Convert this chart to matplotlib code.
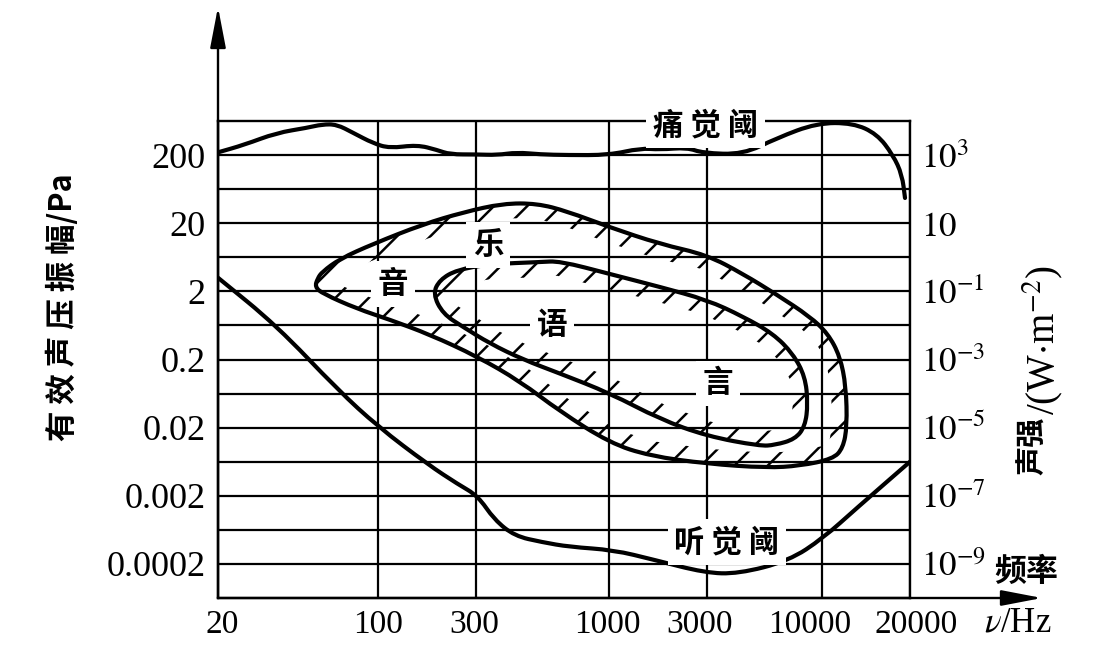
import numpy as np
import matplotlib.pyplot as plt
from matplotlib.path import Path
from matplotlib.patches import PathPatch
from matplotlib.transforms import ScaledTranslation
from matplotlib.ticker import FixedLocator, NullLocator, NullFormatter

plt.rcParams['font.family'] = ['Liberation Serif', 'DejaVu Serif']
plt.rcParams['mathtext.fontset'] = 'stix'
plt.rcParams['hatch.linewidth'] = 1.8

CJK = ['Noto Sans CJK SC', 'DejaVu Sans']

# x axis: frequency (Hz)
x_ticks = [20, 100, 300, 1000, 3000, 10000, 20000]
x_tick_labels = ['20', '100', '300', '1000', '3000', '10000', '20000']

# y axis: effective sound pressure (Pa) and matching intensity exponents
p_ticks = [0.0002, 0.002, 0.02, 0.2, 2, 20, 200]
p_tick_labels = ['0.0002', '0.002', '0.02', '0.2', '2', '20', '200']
intensity_exp = [-9, -7, -5, -3, -1, 1, 3]

# curves, frequency in Hz and level in dB (re 2e-5 Pa)
pain_freq = [20, 26, 36, 49, 57, 66, 78, 95, 114, 155, 194, 224, 300, 363, 435,
             536, 684, 1000, 1420, 1770, 2400, 2860, 4380, 6240, 9480, 12760,
             15420, 17500, 18790, 19230]
pain_level = [140.8, 143, 146.5, 148, 149, 149, 146.5, 143.5, 142, 143, 141.5,
              140.2, 140.2, 140, 140.8, 140.2, 140, 140, 142, 141.6, 142.2,
              140.6, 140.2, 145, 149.4, 149.4, 146.2, 140, 134.2, 127.4]

hearing_freq = [20, 36, 67, 100, 175, 245, 305, 354, 426, 545, 700, 1050, 1660,
                2930, 4160, 7060, 10100, 13150, 20000]
hearing_level = [104, 90, 71, 60.3, 49.2, 43.4, 40, 33, 28.2, 26.4, 25, 24.1,
                 21.2, 17.4, 17.1, 20.9, 27.6, 36.4, 50]

music_freq = [53, 54.5, 57, 68, 95, 166, 260, 383, 521, 684, 1010, 1770, 3000,
              4380, 6240, 8810, 10480, 11530, 12080, 12180, 11800, 10900, 7940,
              5620, 3000, 1580, 1010, 641, 447, 303, 179, 114, 81, 57.5]
music_level = [101.3, 103.8, 105.7, 109.5, 113.9, 119.7, 123.2, 125.8, 125.8,
               123.5, 118.8, 113.9, 110.7, 105.1, 99.0, 92.6, 87.6, 80.9, 72.1,
               60.4, 54.0, 50.8, 48.8, 48.2, 49.4, 51.7, 55.5, 64.8, 73.6, 80.9,
               87.3, 91.7, 94.9, 99.3]

speech_freq = [185, 200, 242, 340, 536, 641, 1010, 1770, 3000, 4380, 5990, 7380,
               8380, 8630, 8380, 7540, 6110, 5220, 3000, 1770, 1010, 641, 459,
               340, 259, 207]
speech_level = [99.3, 103.4, 106.3, 108.0, 108.6, 108.9, 105.1, 101.3, 97.5,
                92.6, 87.6, 81.7, 75.0, 67.1, 60.4, 56.6, 54.9, 54.6, 57.5, 62.5,
                70.1, 75.9, 80.0, 84.7, 89.6, 93.4]


def spl_to_pa(level):
    return 2e-5 * 10 ** (np.asarray(level, dtype=float) / 20)


# the printed frequency axis is only roughly logarithmic
stop_log = np.log10(x_ticks)
stop_pos = np.array([0, 0.2312, 0.3728, 0.5650, 0.7066, 0.8728, 1.0])
s_lo = (stop_pos[1] - stop_pos[0]) / (stop_log[1] - stop_log[0])
s_hi = (stop_pos[-1] - stop_pos[-2]) / (stop_log[-1] - stop_log[-2])


def fwd(f):
    lf = np.log10(np.maximum(np.asarray(f, dtype=float), 1e-12))
    out = np.interp(lf, stop_log, stop_pos)
    out = np.where(lf < stop_log[0], (lf - stop_log[0]) * s_lo, out)
    out = np.where(lf > stop_log[-1], 1 + (lf - stop_log[-1]) * s_hi, out)
    return out


def inv(u):
    u = np.asarray(u, dtype=float)
    lf = np.interp(u, stop_pos, stop_log)
    lf = np.where(u < 0, stop_log[0] + u / s_lo, lf)
    lf = np.where(u > 1, stop_log[-1] + (u - 1) / s_hi, lf)
    return 10 ** lf


def smooth_path(freq, pres, closed=False):
    # quadratic bezier through the read points, built in the axes' own scale space
    P = np.column_stack([fwd(freq), np.log10(pres)])
    if closed:
        M = (P + np.roll(P, -1, axis=0)) / 2
        verts, codes = [M[-1]], [Path.MOVETO]
        for i in range(len(P)):
            verts += [P[i], M[i]]
            codes += [Path.CURVE3, Path.CURVE3]
        verts.append(M[-1])
        codes.append(Path.CLOSEPOLY)
    else:
        M = (P[:-1] + P[1:]) / 2
        verts, codes = [P[0], M[0]], [Path.MOVETO, Path.LINETO]
        for i in range(1, len(P) - 1):
            verts += [P[i], M[i]]
            codes += [Path.CURVE3, Path.CURVE3]
        verts.append(P[-1])
        codes.append(Path.LINETO)
    verts = np.array(verts)
    return Path(np.column_stack([inv(verts[:, 0]), 10 ** verts[:, 1]]), codes)


W, H = 1094, 646
fig = plt.figure(figsize=(W / 100, H / 100), dpi=100)
ax = fig.add_axes([218 / W, 1 - 598 / H, 692 / W, 477 / H])

ax.set_xscale('function', functions=(fwd, inv))
ax.set_yscale('log')
ax.set_xlim(20, 20000)
ax.set_ylim(spl_to_pa(10), spl_to_pa(150))

ax.set_xticks(x_ticks, x_tick_labels)
ax.xaxis.set_minor_locator(NullLocator())
ax.set_yticks(p_ticks, p_tick_labels)
ax.yaxis.set_minor_locator(FixedLocator(np.array(p_ticks[:-1]) * 10 ** 0.5))
ax.yaxis.set_minor_formatter(NullFormatter())
ax.tick_params(which='both', length=0)
ax.tick_params(axis='y', pad=9, labelsize=26)
ax.tick_params(axis='x', pad=8, labelsize=24)

# nudge crowded frequency labels the way the printed figure does
for lab, dx in zip(ax.get_xticklabels(), [4, 0, -2, -2, -7, -12, 6]):
    lab.set_transform(lab.get_transform() + ScaledTranslation(dx / 100, 0, fig.dpi_scale_trans))

ax.grid(True, which='major', axis='x', color='k', lw=1.6)
ax.grid(True, which='both', axis='y', color='k', lw=1.6)
ax.set_axisbelow(True)
for sp in ax.spines.values():
    sp.set_linewidth(1.7)

sec = ax.secondary_yaxis('right')
sec.set_yticks(p_ticks, ['$10$' if e == 1 else f'$10^{{{e}}}$' for e in intensity_exp])
sec.yaxis.set_minor_locator(NullLocator())
sec.tick_params(which='both', length=0, labelsize=25, pad=8)
for sp in sec.spines.values():
    sp.set_visible(False)


def inner_ring(freq, pres, width):
    pts = ax.transData.transform(np.column_stack([freq, pres]))
    x, y = pts[:, 0], pts[:, 1]
    area = 0.5 * np.sum(x * np.roll(y, -1) - np.roll(x, -1) * y)
    tang = np.roll(pts, -1, axis=0) - np.roll(pts, 1, axis=0)
    tang /= np.hypot(tang[:, 0], tang[:, 1])[:, None]
    normal = np.column_stack([-tang[:, 1], tang[:, 0]])
    if area < 0:
        normal = -normal
    inner = ax.transData.inverted().transform(pts + normal * width)
    return inner[:, 0], inner[:, 1]


# hatched bands just inside the music and speech regions
for i, (freq, level) in enumerate([(music_freq, music_level), (speech_freq, speech_level)]):
    pres = spl_to_pa(level)
    path = smooth_path(freq, pres, closed=True)
    ax.add_patch(PathPatch(path, facecolor='none', edgecolor='k', hatch='/', lw=0,
                           zorder=0.2 + 0.1 * i))
    fi, pi = inner_ring(freq, pres, 15)
    ax.fill(fi, pi, facecolor='white', edgecolor='none', zorder=0.25 + 0.1 * i)
    ax.add_patch(PathPatch(path, fill=False, edgecolor='k', lw=3.0, zorder=3,
                           joinstyle='round'))

for freq, level in [(pain_freq, pain_level), (hearing_freq, hearing_level)]:
    ax.add_patch(PathPatch(smooth_path(freq, spl_to_pa(level)), fill=False,
                           edgecolor='k', lw=3.0, zorder=3, capstyle='round'))

box = dict(boxstyle='square,pad=0.22', fc='white', ec='none')
labels = [('痛 觉 阈', 2950, 148.8), ('听 觉 阈', 3700, 26.4), ('乐', 334, 113.6),
          ('音', 118, 102.2), ('语', 597, 90.2), ('言', 3366, 73.0)]
for s, f, lv in labels:
    ax.text(f, spl_to_pa(lv), s, ha='center', va='center', fontsize=22, family=CJK,
            weight='bold', bbox=box, zorder=6, clip_on=False)

# axis arrows
arrow = dict(arrowstyle='-|>,head_length=1.25,head_width=0.24', color='k', lw=1.7,
             shrinkA=0, shrinkB=0, mutation_scale=20)
ax.annotate('', xy=(0, (598 - 7) / 477), xytext=(0, 0), xycoords='axes fraction',
            textcoords='axes fraction', arrowprops=arrow, annotation_clip=False)
ax.annotate('', xy=((1042 - 218) / 692, 0), xytext=(0, 0), xycoords='axes fraction',
            textcoords='axes fraction', arrowprops=arrow, annotation_clip=False)

fig.text(63 / W, 1 - 307 / H, '有 效 声 压 振 幅/Pa', rotation=90, ha='center', va='center',
         fontsize=22, family=CJK, weight='bold')
fig.text(1032 / W, 1 - 417 / H, '声强', rotation=90, ha='center', va='top',
         fontsize=21, family=CJK, weight='bold')
fig.text(1043 / W, 1 - 415 / H, r'/(W$\cdot$m$^{-2}$)', rotation=90, ha='center', va='bottom',
         fontsize=28)
fig.text(1026 / W, 1 - 572 / H, '频率', ha='center', va='center', fontsize=23,
         family=CJK, weight='bold')
fig.text(1018 / W, 1 - 623 / H, r'$\nu$/Hz', ha='center', va='center', fontsize=25)

fig.savefig('out.png', dpi=100)
